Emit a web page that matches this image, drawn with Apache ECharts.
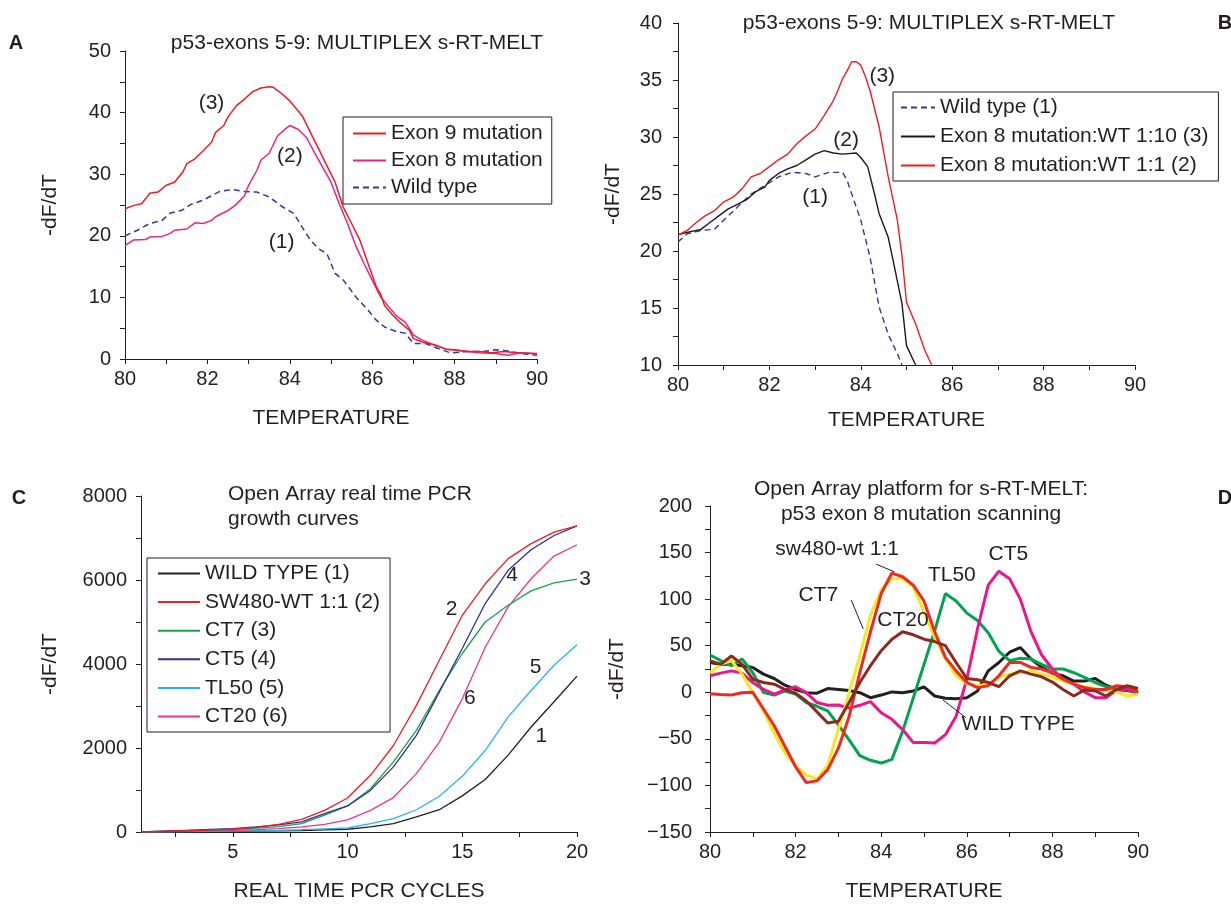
<!DOCTYPE html>
<html><head><meta charset="utf-8">
<script src="https://cdn.jsdelivr.net/npm/echarts@6/dist/echarts.min.js"></script>
<style>html,body{margin:0;padding:0;background:#fff}#c{width:1231px;height:905px}</style>
</head><body><div id="c"></div>
<script>
// ---------- Panel A ----------
const aExon9T = [80,80.2,80.4,80.5,80.6,80.8,81,81.2,81.4,81.5,81.7,81.9,82.1,82.2,82.4,82.5,82.7,82.9,83.1,83.3,83.5,83.6,83.8,84,84.2,84.3,84.5,84.7,84.9,85.1,85.3,85.5,85.7,85.9,86.1,86.2,86.3,86.5,86.7,86.9,87,87.2,87.5,87.8,88,88.3,88.6,88.9,89.2,89.5,90];
const aExon9V = [24.4,24.9,25.2,26,26.9,27.1,28.2,28.7,30.3,31.7,32.5,33.8,35.2,36.8,37.9,39.3,41.1,42.2,43.4,44,44.2,44.1,43.1,41.9,40.3,39.5,36.8,34.1,31.4,28.7,24.6,22,19.3,15.5,11.7,10.6,8.7,7.1,5.8,4.7,3.3,2.8,2.3,1.6,1.5,1.2,1.2,1.0,1.2,1.0,0.9];
const aExon8T = [80,80.2,80.5,80.6,80.9,81.1,81.2,81.5,81.7,81.9,82.1,82.2,82.5,82.7,82.9,83,83.2,83.3,83.5,83.7,83.9,84,84.2,84.4,84.6,84.8,85,85.2,85.4,85.6,85.8,86,86.2,86.4,86.6,86.8,87,87.2,87.5,87.8,88.2,88.6,89,89.3,89.6,90];
const aExon8V = [18.4,19.3,19.4,19.8,19.9,20.4,20.9,21.1,22.1,22,22.5,23.1,24.1,25.1,26.5,28.2,30.6,32.3,33.4,36.2,37.4,37.9,37.3,36,33.5,31.1,28.7,25.2,22,18.4,15.5,12.8,10.1,8.5,6.9,6.0,3.9,3.1,2.3,1.6,1.3,1.0,0.9,0.6,1.0,0.8];
const aWildT = [80,80.3,80.6,80.9,81.1,81.4,81.6,81.9,82.1,82.3,82.6,82.9,83.2,83.5,83.8,84.1,84.3,84.5,84.7,84.9,85.1,85.3,85.6,85.9,86.1,86.3,86.6,86.8,87,87.3,87.6,87.9,88.3,88.7,89,89.3,89.6,90];
const aWildV = [20,20.9,22,22.5,23.7,24.2,25.1,25.8,26.5,27.2,27.5,27.2,27.1,26.3,24.8,23.6,21.4,19.3,17.9,17.1,13.9,12.8,10.1,7.9,6.3,5.2,4.4,4.2,2.5,2.5,1.7,1.0,1.2,1.2,1.5,1.3,0.9,0.6];
const aNames = ['Exon 9 mutation','Exon 8 mutation','Wild type'];
const aNoteText = ['(3)','(2)','(1)'];
const aNoteX = [82.1,84.0,83.8];
const aNoteY = [41.6,33,19];

// ---------- Panel B ----------
const bRedT = [80,80.2,80.4,80.6,80.8,81,81.2,81.4,81.6,81.8,82,82.2,82.4,82.6,82.8,83,83.2,83.4,83.5,83.6,83.7,83.8,83.9,84,84.1,84.2,84.4,84.6,84.8,84.9,85,85.2,85.4,85.55];
const bRedV = [21.4,21.8,22.5,23.1,23.55,24.3,24.7,25.45,26.5,26.8,27.4,28,28.5,29.4,30.1,30.7,31.9,33.2,34.1,35.1,35.8,36.6,36.6,36.3,35.3,34.1,30.9,26.5,22.7,19.6,15.5,13.6,11.3,10];
const bBlackT = [80,80.5,80.7,80.9,81.1,81.3,81.5,81.7,81.9,82,82.2,82.4,82.6,82.8,83,83.2,83.4,83.6,83.9,84,84.15,84.3,84.4,84.6,84.7,84.9,85,85.2];
const bBlackV = [21.45,21.9,22.5,23.1,23.7,24.1,24.5,25.2,25.6,26.2,26.8,27.2,27.5,28,28.5,28.8,28.6,28.5,28.6,28.2,27.4,25,23.3,21.2,19.3,15.4,11.7,10];
const bWildT = [80,80.2,80.5,80.8,81,81.3,81.6,81.9,82.2,82.5,82.8,83,83.3,83.6,83.7,83.9,84,84.2,84.4,84.6,84.8,84.9];
const bWildV = [20.8,21.5,21.8,21.9,22.7,23.85,25,25.75,26.5,26.9,26.8,26.5,26.9,26.9,26.2,23.85,22.7,19.5,15.1,12.7,11,10];
const bNames = ['Wild type (1)','Exon 8 mutation:WT 1:10 (3)','Exon 8 mutation:WT 1:1 (2)'];
const bNoteText = ['(3)','(2)','(1)'];
const bNoteX = [84.47,83.68,83.0];
const bNoteY = [35.3,29.75,24.7];

// ---------- Panel C ----------
const cCycles = [1,2,3,4,5,6,7,8,9,10,11,12,13,14,15,16,17,18,19,20];
const cNames = ['WILD TYPE (1)','SW480-WT 1:1 (2)','CT7 (3)','CT5 (4)','TL50 (5)','CT20 (6)'];
const cWild = [0,5,8,12,15,20,25,35,50,65,120,200,360,530,860,1250,1830,2500,3100,3710];
const cSW480 = [0,20,30,50,70,110,180,300,515,810,1350,2060,3015,4090,5160,5910,6510,6865,7140,7290];
const cCT7 = [0,15,30,45,60,90,130,200,400,620,1030,1670,2420,3370,4250,5000,5400,5740,5930,6020];
const cCT5 = [0,20,40,60,80,120,170,240,440,620,990,1550,2300,3330,4370,5440,6230,6720,7060,7290];
const cTL50 = [0,5,10,15,20,30,40,55,75,95,200,320,530,850,1325,1940,2740,3370,3970,4460];
const cCT20 = [0,10,20,30,40,55,80,120,180,290,515,820,1390,2140,3170,4400,5360,6030,6570,6840];
const cNoteText = ['2','4','3','5','6','1'];
const cNoteX = [14.53,17.17,20.35,18.2,15.33,18.45];
const cNoteY = [5300,6110,6015,3930,3175,2280];
const cTickX = [2.5,5,7.5,10,12.5,15,17.5,20];
const cLabelX = [5,10,15,20];

// ---------- Panel D ----------
const dTemp = [80,80.25,80.5,80.75,81,81.25,81.5,81.75,82,82.25,82.5,82.75,83,83.25,83.5,83.75,84,84.25,84.5,84.75,85,85.25,85.5,85.75,86,86.25,86.5,86.75,87,87.25,87.5,87.75,88,88.25,88.5,88.75,89,89.25,89.5,89.75,90];
const dWild = [32,30,30,28.5,26.7,19.5,14.8,7.6,3,-0.4,-1,4,3,2,-0.4,-5.8,-3,0.4,-0.4,1.4,5.8,-4,-6.5,-7,-5.8,1.4,23,32,43,48,35.7,26.7,20.6,17.7,12,12,14.8,7.6,3,2,-0.4];
const dTL50 = [40,34,28.5,35.7,21,-0.4,-3,1.4,-2,-11,-15,-20,-35,-51,-68,-73,-76,-72,-42,-6,30,66,106,98,85,77,64,44,34,36.5,35.7,30,25,25,21,16,10.5,6,3,3,-2];
const dCT5 = [17.7,20.6,23,20.6,10.5,3,-2,2.5,6,-0.4,-11,-14,-13.7,-17,-14,-10,-22,-29,-40,-54,-54,-54.5,-45.5,-25.6,14,68,115,130,122,100,65,40,25,14,8.7,0.4,-5.8,-5.8,2.5,3,-0.4];
const dCT7 = [21,30,34,19.5,-0.4,-20,-44,-65,-79,-89,-93,-78,-40,-0.4,39,83,110,122,122,113,86,59,36,17.7,9.4,7,8.7,16,19.5,21,23,19.5,16,12,8.7,6,4,2,0.4,-4,-2];
const dSW480 = [-1.5,-2.5,-3,-0.5,0,-18,-36,-58,-80,-97,-95,-83,-60,-26,21,65,106,128,124,115,98,65,37.5,23,10.5,5,7,17.7,32,32,26.7,25,21,14,8.7,5,3,3,7,6,0.4];
const dCT20 = [34,30,39,30,14,10.5,8.7,3,-1,-9.4,-21,-33,-31,-11,10.5,28.5,44.7,57,65,61.7,57,54.5,50,32,14.8,13.4,10.5,6,17.7,23,19.5,16.6,11,3,-4,2.5,1.4,-4,3,7,4];
const dNoteText = ['sw480-wt 1:1','CT7','TL50','CT5','CT20','WILD TYPE'];
const dNoteX = [82.97,82.53,85.65,86.97,84.51,87.2];
const dNoteY = [154,104,126,148,77,-34.6];
const dLeaderX = [[83.88,84.3],[83.3,83.58],[85.44,85.98]];
const dLeaderY = [[137.6,129.5],[99,68],[-8.2,-27.3]];

// ---------- helpers ----------
const FONT = 'Liberation Sans';
const INK = '#231f20';
const zip = (xs, ys) => xs.map((x, i) => [x, ys[i]]);

function axisX(idx, min, max, step, labelEvery, nameGap, name, extra) {
  return Object.assign({
    type: 'value', gridIndex: idx, min: min, max: max, interval: step,
    name: name, nameLocation: 'middle', nameGap: nameGap,
    nameTextStyle: {fontFamily: FONT, fontSize: 21, color: INK},
    axisLine: {show: true, onZero: false, lineStyle: {color: INK, width: 1}},
    axisTick: {show: true, length: 5, lineStyle: {color: INK}},
    splitLine: {show: false},
    axisLabel: {fontFamily: FONT, fontSize: 20, color: INK, margin: 10,
      formatter: v => (Math.abs(v / labelEvery - Math.round(v / labelEvery)) < 1e-6 ? String(v) : '')}
  }, extra || {});
}
function axisY(idx, min, max, step, labelEvery, nameGap, name, margin, minusSign) {
  return {
    type: 'value', gridIndex: idx, min: min, max: max, interval: step,
    name: name, nameLocation: 'middle', nameGap: nameGap,
    nameTextStyle: {fontFamily: FONT, fontSize: 21, color: INK},
    axisLine: {show: true, onZero: false, lineStyle: {color: INK, width: 1}},
    axisTick: {show: true, length: 5, lineStyle: {color: INK}},
    splitLine: {show: false},
    axisLabel: {fontFamily: FONT, fontSize: 20, color: INK, margin: margin,
      formatter: v => {
        if (Math.abs(v / labelEvery - Math.round(v / labelEvery)) > 1e-6) return '';
        return (minusSign && v < 0) ? '\u2212' + Math.abs(v) : String(v);
      }}
  };
}
function lineSeries(name, idx, data, color, width, dashed, z) {
  return {
    name: name, type: 'line', xAxisIndex: idx, yAxisIndex: idx, data: data,
    symbol: 'none', smooth: false, clip: true, z: z || 2,
    lineStyle: {color: color, width: width, type: dashed ? [6, 4] : 'solid'},
    itemStyle: {color: color}, animation: false
  };
}
function legend(names, left, top, padding, itemWidth, gap) {
  return {
    data: names, left: left, top: top, orient: 'vertical', padding: padding,
    itemWidth: itemWidth, itemHeight: 14, itemGap: gap,
    itemStyle: {opacity: 0},
    borderColor: INK, borderWidth: 1, backgroundColor: '#fff',
    textStyle: {fontFamily: FONT, fontSize: 21, color: INK, lineHeight: 20},
    selectedMode: false
  };
}

const series = [
  lineSeries(aNames[2], 0, zip(aWildT, aWildV), '#2e3a94', 1.5, true),
  lineSeries(aNames[1], 0, zip(aExon8T, aExon8V), '#e7238c', 1.5),
  lineSeries(aNames[0], 0, zip(aExon9T, aExon9V), '#ee1c25', 1.5),

  lineSeries(bNames[0], 1, zip(bWildT, bWildV), '#2e3a94', 1.4, true),
  lineSeries(bNames[1], 1, zip(bBlackT, bBlackV), '#1a1a1a', 1.4),
  lineSeries(bNames[2], 1, zip(bRedT, bRedV), '#ee1c25', 1.4),

  lineSeries(cNames[0], 2, zip(cCycles, cWild), '#231f20', 1.3),
  lineSeries(cNames[4], 2, zip(cCycles, cTL50), '#27b5ea', 1.3),
  lineSeries(cNames[5], 2, zip(cCycles, cCT20), '#ea3592', 1.3),
  lineSeries(cNames[2], 2, zip(cCycles, cCT7), '#1ba14e', 1.3),
  lineSeries(cNames[3], 2, zip(cCycles, cCT5), '#2e3192', 1.3),
  lineSeries(cNames[1], 2, zip(cCycles, cSW480), '#ee1c25', 1.3),

  lineSeries('WILD TYPE', 3, zip(dTemp, dWild), '#231f20', 3),
  lineSeries('TL50', 3, zip(dTemp, dTL50), '#00a44f', 3),
  lineSeries('CT5', 3, zip(dTemp, dCT5), '#ec168c', 3),
  lineSeries('CT7', 3, zip(dTemp, dCT7), '#f9e71e', 3),
  lineSeries('sw480-wt 1:1', 3, zip(dTemp, dSW480), '#ee2a24', 3),
  lineSeries('CT20', 3, zip(dTemp, dCT20), '#8b2b1f', 3)
];
dLeaderX.forEach((xs, i) => {
  series.push({type: 'line', xAxisIndex: 3, yAxisIndex: 3, data: zip(xs, dLeaderY[i]),
    symbol: 'none', silent: true, z: 6, lineStyle: {color: INK, width: 1}, animation: false});
});

const txt = (x, y, text, size, bold, align) => ({
  type: 'text', x: x, y: y, silent: true, z: 10,
  style: {text: text, fontFamily: FONT, fontSize: size, fontWeight: bold ? 'bold' : 'normal',
    fill: INK, textAlign: align || 'center', textVerticalAlign: 'middle', lineHeight: 25}
});

const option = {
  animation: false,
  backgroundColor: '#fff',
  grid: [
    {left: 125, top: 51, width: 412, height: 308},
    {left: 678, top: 23, width: 457, height: 342},
    {left: 141, top: 496, width: 436, height: 336},
    {left: 710, top: 506, width: 428, height: 326}
  ],
  xAxis: [
    axisX(0, 80, 90, 1, 2, 49, 'TEMPERATURE'),
    axisX(1, 80, 90, 1, 2, 45, 'TEMPERATURE'),
    axisX(2, 1, 20, 1, 5, 49, 'REAL TIME PCR CYCLES', {
      axisTick: {show: true, length: 5, lineStyle: {color: INK}, customValues: cTickX},
      axisLabel: {fontFamily: FONT, fontSize: 20, color: INK, margin: 10, customValues: cLabelX}
    }),
    axisX(3, 80, 90, 1, 2, 49, 'TEMPERATURE')
  ],
  yAxis: [
    axisY(0, 0, 50, 5, 10, 64, '-dF/dT', 14),
    axisY(1, 10, 40, 2.5, 5, 54, '-dF/dT', 16),
    axisY(2, 0, 8000, 1000, 2000, 80, '-dF/dT', 14),
    axisY(3, -150, 200, 25, 50, 82, '-dF/dT', 18, true)
  ],
  legend: [
    legend(aNames, 343, 117, [6, 9, 6, 9], 33, 6),
    legend(bNames, 893, 92, [5, 10, 5, 7], 34, 8),
    legend(cNames, 147, 558, [5, 10, 5, 10], 42, 7.6)
  ],
  series: series
};

const chart = echarts.init(document.getElementById('c'), null, {renderer: 'canvas'});
chart.setOption(option);

// Annotations placed through the library's own coordinate conversion
const graphics = [
  txt(16, 43, 'A', 20, true),
  txt(1225, 23, 'B', 20, true),
  txt(19, 498, 'C', 20, true),
  txt(1225, 498, 'D', 20, true),
  txt(357, 43, 'p53-exons 5-9: MULTIPLEX s-RT-MELT', 21),
  txt(929, 23, 'p53-exons 5-9: MULTIPLEX s-RT-MELT', 21),
  txt(228, 507, 'Open Array real time PCR\ngrowth curves', 21, false, 'left'),
  txt(921, 502, 'Open Array platform for s-RT-MELT:\np53 exon 8 mutation scanning', 21)
];
const noteSets = [
  [0, aNoteX, aNoteY, aNoteText],
  [1, bNoteX, bNoteY, bNoteText],
  [2, cNoteX, cNoteY, cNoteText],
  [3, dNoteX, dNoteY, dNoteText]
];
noteSets.forEach(([g, xs, ys, ts]) => {
  xs.forEach((x, i) => {
    const p = chart.convertToPixel({gridIndex: g}, [x, ys[i]]);
    graphics.push(txt(p[0], p[1], ts[i], 21));
  });
});
chart.setOption({graphic: graphics});
</script>
</body></html>
